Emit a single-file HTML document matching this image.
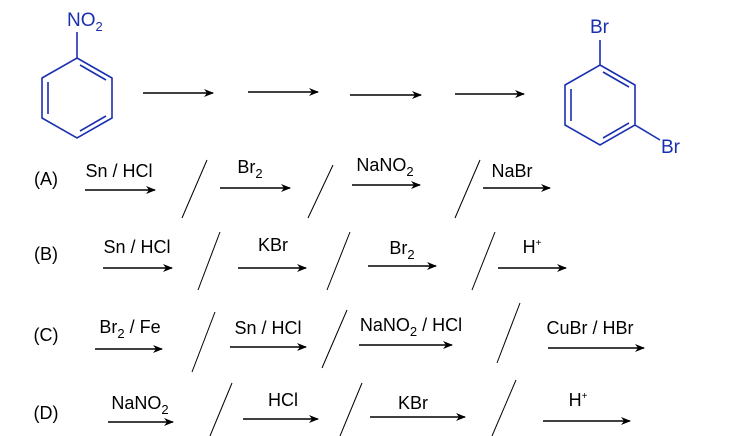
<!DOCTYPE html>
<html><head><meta charset="utf-8"><style>html,body{margin:0;padding:0;background:#fff}svg{display:block}</style></head><body>
<svg width="730" height="436" viewBox="0 0 730 436" xmlns="http://www.w3.org/2000/svg" font-family="Liberation Sans, Arial, sans-serif">
<defs><marker id="ah" markerWidth="10" markerHeight="8" refX="9" refY="4" orient="auto" markerUnits="userSpaceOnUse"><path d="M0,0 L10,4 L0,8 L3,4 Z" fill="#000"/></marker></defs>
<g stroke="#1a2fb0" stroke-width="1.6" fill="none">
<path d="M77,32 L77,58"/>
<path d="M77,58 L112,78 L112,118 L77,138 L42,118 L42,78 Z"/>
<path d="M80,65 L106,80 M48,82 L48,114 M80,131 L106,116"/>
<path d="M600,40 L600,65 M600,65 L635,85 L635,125 L600,145 L565,125 L565,85 Z M635,125 L660,140"/>
<path d="M603,72 L629,87 M571,89 L571,121 M603,138 L629,123"/>
</g>
<g fill="#1a2fb0" font-size="19">
<text x="67" y="26">NO<tspan font-size="13" dy="5">2</tspan></text>
<text x="590" y="33">Br</text>
<text x="661" y="153">Br</text>
</g>
<g stroke="#000" stroke-width="1.6" marker-end="url(#ah)">
<line x1="143" y1="93" x2="213" y2="93"/><line x1="248" y1="92" x2="318" y2="92"/><line x1="350" y1="95" x2="421" y2="95"/><line x1="455" y1="94" x2="524" y2="94"/>
<line x1="85" y1="190" x2="155" y2="190"/><line x1="220" y1="188" x2="290" y2="188"/><line x1="352" y1="185" x2="420" y2="185"/><line x1="483" y1="188" x2="550" y2="188"/>
<line x1="103" y1="268" x2="172" y2="268"/><line x1="238" y1="268" x2="306" y2="268"/><line x1="368" y1="266" x2="436" y2="266"/><line x1="498" y1="268" x2="566" y2="268"/>
<line x1="95" y1="349" x2="162" y2="349"/><line x1="230" y1="347" x2="306" y2="347"/><line x1="359" y1="345" x2="452" y2="345"/><line x1="548" y1="348" x2="644" y2="348"/>
<line x1="108" y1="422" x2="173" y2="422"/><line x1="243" y1="419" x2="318" y2="419"/><line x1="370" y1="417" x2="465" y2="417"/><line x1="543" y1="421" x2="630" y2="421"/>
</g>
<g stroke="#000" stroke-width="1">
<line x1="207" y1="160" x2="182" y2="218"/><line x1="333" y1="165" x2="308" y2="218"/><line x1="480" y1="160" x2="455" y2="218"/>
<line x1="220" y1="232" x2="198" y2="290"/><line x1="350" y1="232" x2="327" y2="290"/><line x1="495" y1="232" x2="472" y2="290"/>
<line x1="215" y1="312" x2="192" y2="372"/><line x1="347" y1="310" x2="322" y2="368"/><line x1="520" y1="303" x2="497" y2="363"/>
<line x1="232" y1="383" x2="210" y2="436"/><line x1="362" y1="383" x2="340" y2="436"/><line x1="516" y1="380" x2="492" y2="436"/>
</g>
<g fill="#000" font-size="18" text-anchor="middle">
<text x="46" y="185">(A)</text><text x="46" y="260">(B)</text><text x="46" y="341">(C)</text><text x="46" y="419">(D)</text>
<text x="119" y="177">Sn / HCl</text><text x="250" y="173">Br<tspan font-size="13" dy="5">2</tspan></text>
<text x="385" y="171">NaNO<tspan font-size="13" dy="5">2</tspan></text><text x="512" y="177">NaBr</text>
<text x="137" y="253">Sn / HCl</text><text x="273" y="251">KBr</text>
<text x="402" y="254">Br<tspan font-size="13" dy="5">2</tspan></text><text x="532" y="253">H<tspan font-size="10" dy="-7">+</tspan></text>
<text x="130" y="333">Br<tspan font-size="13" dy="5">2</tspan><tspan dy="-5"> / Fe</tspan></text>
<text x="268" y="334">Sn / HCl</text>
<text x="411" y="331">NaNO<tspan font-size="13" dy="5">2</tspan><tspan dy="-5"> / HCl</tspan></text>
<text x="590" y="334">CuBr / HBr</text>
<text x="140" y="409">NaNO<tspan font-size="13" dy="5">2</tspan></text><text x="283" y="406">HCl</text>
<text x="413" y="409">KBr</text><text x="578" y="406">H<tspan font-size="10" dy="-7">+</tspan></text>
</g>
</svg>
</body></html>
